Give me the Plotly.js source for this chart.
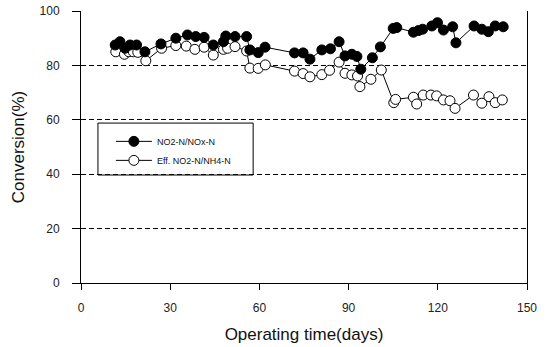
<!DOCTYPE html>
<html>
<head>
<meta charset="utf-8">
<script src="https://cdn.plot.ly/plotly-3.0.1.min.js"></script>
<style>html,body{margin:0;padding:0;background:#fff;}#chart{width:548px;height:347px;}</style>
</head>
<body>
<div id="chart"></div>
<script>
// Series 1: NO2-N/NOx-N (filled circles)
var daysNOx = [11.5,13.1,14.8,16.5,18.7,21.5,26.9,31.9,35.8,38.6,41.4,44.5,47.9,48.7,51.8,55.7,56.8,59.6,61.9,71.8,74.7,77.0,81.0,83.9,86.8,88.8,91.1,92.8,94.1,98.0,100.7,105.0,106.2,111.8,113.5,114.9,118.0,119.9,121.9,125.0,126.1,132.2,134.8,137.0,139.3,142.0];
var convNOx = [87.5,88.7,86.3,87.5,87.5,85.0,87.9,90.0,91.2,90.6,90.3,87.5,88.7,90.8,90.6,90.6,85.7,84.7,86.7,84.6,84.6,82.3,85.7,86.1,88.7,83.5,84.1,83.3,78.6,82.8,86.8,93.6,93.9,92.2,92.8,93.3,94.5,95.7,93.0,94.2,88.3,94.5,93.3,92.4,94.5,94.2];
// Series 2: Eff. NO2-N/NH4-N (open circles)
var daysNH4 = [11.7,14.6,16.1,17.6,19.1,21.8,27.1,31.9,35.4,38.3,41.4,44.5,47.9,49.3,51.8,55.7,56.8,59.6,62.0,71.8,74.7,77.0,81.0,83.6,86.8,88.8,91.1,93.0,93.8,97.5,101.0,105.2,105.8,111.8,112.9,115.1,117.7,119.6,121.9,124.1,125.8,132.0,134.8,137.2,139.3,141.7];
var convNH4 = [85.0,84.1,85.0,85.0,84.8,81.7,86.3,87.3,87.1,85.9,86.7,83.8,85.9,86.3,86.9,85.3,79.0,78.9,80.2,77.9,77.0,75.8,76.6,78.2,81.2,77.1,76.5,76.1,72.2,74.9,78.3,66.3,67.5,68.3,65.8,69.1,69.1,68.8,67.3,67.0,64.2,69.1,66.1,68.5,66.3,67.3];
var seriesNames = ["NO2-N/NOx-N", "Eff. NO2-N/NH4-N"];
var xTicks = [0,30,60,90,120,150];
var yTicks = [0,20,40,60,80,100];

var traces = [
  {
    x: daysNH4, y: convNH4, name: seriesNames[1], type: 'scatter', mode: 'lines+markers',
    line: {color: '#000', width: 1},
    marker: {symbol: 'circle', size: 10, color: '#fff', line: {color: '#000', width: 1}},
    legendrank: 2
  },
  {
    x: daysNOx, y: convNOx, name: seriesNames[0], type: 'scatter', mode: 'lines+markers',
    line: {color: '#000', width: 1},
    marker: {symbol: 'circle', size: 10, color: '#000', line: {color: '#000', width: 1}},
    legendrank: 1
  }
];

var layout = {
  width: 548, height: 347,
  margin: {l: 81, r: 21, t: 11, b: 64, pad: 0},
  paper_bgcolor: '#fff', plot_bgcolor: '#fff',
  font: {family: 'Arial, Liberation Sans, sans-serif', color: '#222'},
  showlegend: true,
  legend: {
    x: 0.067, y: 0.574, xanchor: 'left', yanchor: 'top',
    bgcolor: 'rgba(0,0,0,0)', borderwidth: 0,
    font: {size: 9, color: '#111'},
    itemwidth: 36, tracegroupgap: 0
  },
  xaxis: {
    range: [0, 150], tickvals: xTicks, ticktext: xTicks.map(String),
    showgrid: false, zeroline: false,
    showline: true, linecolor: '#000', linewidth: 1,
    ticks: 'outside', ticklen: 6, tickcolor: '#000', tickwidth: 1,
    tickfont: {size: 12, color: '#222'}, ticklabelstandoff: 8,
    title: {text: 'Operating time(days)', font: {size: 17, color: '#111'}, standoff: 13}
  },
  yaxis: {
    range: [0, 100], tickvals: yTicks, ticktext: yTicks.map(String),
    showgrid: true, gridcolor: '#000', gridwidth: 1, griddash: '5px,3px',
    zeroline: false,
    showline: true, linecolor: '#000', linewidth: 1, mirror: true,
    ticks: 'outside', ticklen: 8, tickcolor: '#000', tickwidth: 1,
    tickfont: {size: 12, color: '#222'}, ticklabelstandoff: 10,
    title: {text: 'Conversion(%)', font: {size: 17, color: '#111'}, standoff: 10}
  },
  shapes: [
    {type: 'rect', xref: 'paper', yref: 'paper', x0: 0.038, x1: 0.386, y0: 0.397, y1: 0.588,
     line: {color: '#000', width: 1}, fillcolor: '#fff', layer: 'below'}
  ]
};

Plotly.newPlot('chart', traces, layout, {displayModeBar: false, staticPlot: true});
</script>
</body>
</html>
